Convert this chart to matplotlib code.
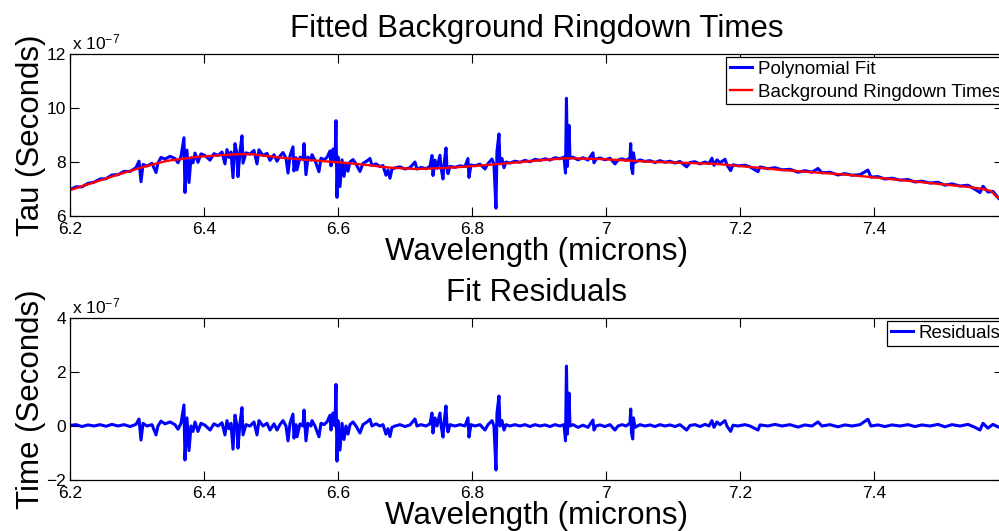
import matplotlib
matplotlib.use("Agg")
import matplotlib.pyplot as plt

# ── Data (tau values in units of 1e-7 s) ─────────────────────────────────────
wavelength = [
    6.2000, 6.2090, 6.2179, 6.2269, 6.2358, 6.2448, 6.2537, 6.2627, 6.2716, 6.2806,
    6.2896, 6.2985, 6.3030, 6.3060, 6.3090, 6.3149, 6.3224, 6.3284, 6.3313, 6.3358,
    6.3418, 6.3493, 6.3567, 6.3612, 6.3657, 6.3701, 6.3716, 6.3746, 6.3776, 6.3806,
    6.3836, 6.3866, 6.3910, 6.3955, 6.4015, 6.4090, 6.4149, 6.4209, 6.4269, 6.4313,
    6.4343, 6.4373, 6.4403, 6.4433, 6.4463, 6.4493, 6.4507, 6.4537, 6.4567, 6.4582,
    6.4627, 6.4687, 6.4746, 6.4791, 6.4821, 6.4881, 6.4940, 6.4985, 6.5045, 6.5090,
    6.5134, 6.5179, 6.5224, 6.5254, 6.5284, 6.5328, 6.5343, 6.5373, 6.5388, 6.5433,
    6.5478, 6.5493, 6.5522, 6.5552, 6.5597, 6.5612, 6.5657, 6.5716, 6.5746, 6.5791,
    6.5836, 6.5881, 6.5896, 6.5925, 6.5955, 6.5970, 6.5985, 6.6000, 6.6030, 6.6060,
    6.6090, 6.6119, 6.6149, 6.6179, 6.6224, 6.6269, 6.6328, 6.6373, 6.6433, 6.6478,
    6.6507, 6.6567, 6.6627, 6.6672, 6.6716, 6.6746, 6.6776, 6.6806, 6.6851, 6.6925,
    6.7000, 6.7075, 6.7149, 6.7179, 6.7239, 6.7313, 6.7373, 6.7403, 6.7418, 6.7448,
    6.7478, 6.7522, 6.7537, 6.7567, 6.7582, 6.7612, 6.7627, 6.7642, 6.7672, 6.7746,
    6.7821, 6.7896, 6.7940, 6.7955, 6.7985, 6.8045, 6.8119, 6.8194, 6.8239, 6.8299,
    6.8328, 6.8358, 6.8373, 6.8403, 6.8418, 6.8448, 6.8478, 6.8507, 6.8567, 6.8642,
    6.8716, 6.8791, 6.8866, 6.8940, 6.9015, 6.9090, 6.9164, 6.9239, 6.9313, 6.9373,
    6.9396, 6.9410, 6.9425, 6.9448, 6.9463, 6.9507, 6.9582, 6.9657, 6.9731, 6.9806,
    6.9821, 6.9851, 6.9910, 6.9985, 7.0060, 7.0134, 7.0179, 7.0239, 7.0299, 7.0358,
    7.0369, 7.0381, 7.0399, 7.0410, 7.0433, 7.0507, 7.0582, 7.0657, 7.0731, 7.0806,
    7.0881, 7.0955, 7.1030, 7.1104, 7.1204, 7.1254, 7.1328, 7.1403, 7.1478, 7.1537,
    7.1582, 7.1612, 7.1657, 7.1701, 7.1776, 7.1806, 7.1861, 7.1896, 7.1970, 7.2075,
    7.2149, 7.2269, 7.2299, 7.2418, 7.2522, 7.2627, 7.2746, 7.2866, 7.2970, 7.3075,
    7.3164, 7.3224, 7.3343, 7.3463, 7.3567, 7.3672, 7.3791, 7.3910, 7.3955, 7.4060,
    7.4164, 7.4269, 7.4388, 7.4507, 7.4612, 7.4716, 7.4836, 7.4955, 7.5060, 7.5164,
    7.5284, 7.5403, 7.5507, 7.5582, 7.5627, 7.5701, 7.5776, 7.5866, 7.6000,
]

tau_measured = [
    6.98, 7.08, 7.08, 7.21, 7.25, 7.37, 7.38, 7.52, 7.53, 7.65,
    7.65, 7.79, 8.03, 7.27, 7.91, 7.85, 7.95, 7.61, 7.96, 8.17,
    8.11, 8.21, 8.13, 7.97, 8.21, 8.90, 6.87, 8.44, 7.24, 8.16,
    7.97, 8.33, 7.99, 8.30, 8.24, 8.07, 8.31, 8.24, 8.37, 7.93,
    8.46, 8.17, 8.37, 7.42, 8.68, 8.28, 7.46, 8.38, 8.97, 7.96,
    8.34, 8.29, 8.43, 7.93, 8.45, 8.24, 8.32, 8.06, 8.27, 8.03,
    8.22, 8.35, 8.14, 7.59, 8.23, 8.56, 7.67, 8.16, 7.71, 8.18,
    8.09, 8.68, 7.53, 8.18, 8.07, 8.27, 8.06, 7.64, 8.14, 8.08,
    8.17, 8.41, 7.86, 8.48, 8.00, 9.53, 6.69, 8.19, 7.09, 8.08,
    7.47, 7.96, 7.66, 8.00, 8.09, 7.93, 7.65, 7.95, 8.04, 8.13,
    7.87, 7.93, 7.83, 7.87, 7.51, 7.70, 7.40, 7.74, 7.78, 7.82,
    7.74, 7.79, 8.00, 7.74, 7.80, 7.75, 7.84, 8.24, 7.50, 8.07,
    7.77, 8.25, 7.82, 7.37, 7.88, 8.52, 7.78, 7.57, 7.84, 7.80,
    7.86, 7.83, 8.13, 7.43, 7.89, 7.86, 7.92, 7.74, 7.94, 8.11,
    7.91, 6.29, 8.40, 9.04, 7.93, 8.13, 7.79, 8.00, 7.96, 8.03,
    7.99, 8.06, 8.01, 8.10, 8.06, 8.12, 8.07, 8.16, 8.12, 8.18,
    7.59, 10.36, 7.84, 9.36, 8.14, 8.18, 8.08, 8.16, 8.07, 8.34,
    7.97, 8.11, 8.15, 8.08, 8.14, 7.93, 8.07, 8.12, 8.06, 8.15,
    8.68, 7.79, 7.57, 8.34, 7.99, 8.08, 8.02, 8.05, 7.98, 8.05,
    7.99, 8.03, 7.96, 8.02, 7.82, 7.98, 8.01, 7.93, 8.00, 7.94,
    8.14, 7.88, 8.08, 7.97, 8.10, 7.89, 7.68, 7.90, 7.86, 7.88,
    7.82, 7.64, 7.82, 7.75, 7.79, 7.71, 7.73, 7.62, 7.68, 7.62,
    7.76, 7.60, 7.62, 7.52, 7.57, 7.51, 7.53, 7.70, 7.44, 7.46,
    7.37, 7.40, 7.33, 7.35, 7.26, 7.29, 7.22, 7.25, 7.14, 7.19,
    7.11, 7.14, 6.99, 6.87, 7.10, 6.89, 6.91, 6.64, 6.62,
]

residuals = [
    0.02, 0.05, -0.02, 0.04, 0.00, 0.05, -0.01, 0.06, 0.00, 0.05,
    -0.02, 0.06, 0.26, -0.52, 0.10, 0.00, 0.05, -0.33, 0.00, 0.18,
    0.08, 0.15, 0.05, -0.12, 0.10, 0.78, -1.26, 0.30, -0.91, 0.00,
    -0.20, 0.15, -0.20, 0.10, 0.03, -0.15, 0.08, 0.00, 0.12, -0.33,
    0.20, -0.10, 0.10, -0.86, 0.40, 0.00, -0.82, 0.10, 0.68, -0.33,
    0.05, 0.00, 0.15, -0.33, 0.20, 0.00, 0.10, -0.15, 0.08, -0.15,
    0.05, 0.20, 0.00, -0.55, 0.10, 0.44, -0.45, 0.05, -0.40, 0.08,
    0.00, 0.59, -0.55, 0.10, 0.00, 0.20, 0.00, -0.40, 0.10, 0.05,
    0.15, 0.40, -0.15, 0.48, 0.00, 1.54, -1.30, 0.20, -0.89, 0.10,
    -0.50, 0.00, -0.30, 0.05, 0.15, 0.00, -0.26, 0.05, 0.15, 0.25,
    0.00, 0.08, 0.00, 0.05, -0.30, -0.10, -0.39, -0.05, 0.00, 0.05,
    -0.02, 0.04, 0.26, 0.00, 0.05, 0.00, 0.08, 0.48, -0.26, 0.30,
    0.00, 0.48, 0.05, -0.41, 0.10, 0.74, 0.00, -0.22, 0.05, 0.00,
    0.05, 0.00, 0.30, -0.41, 0.05, 0.00, 0.05, -0.15, 0.05, 0.20,
    0.00, -1.63, 0.48, 1.11, 0.00, 0.20, -0.15, 0.05, 0.00, 0.05,
    0.00, 0.05, -0.02, 0.05, 0.00, 0.04, -0.02, 0.05, 0.00, 0.05,
    -0.55, 2.22, -0.30, 1.22, 0.00, 0.05, -0.05, 0.03, -0.05, 0.22,
    -0.15, 0.00, 0.04, -0.02, 0.05, -0.15, 0.00, 0.05, 0.00, 0.10,
    0.63, -0.26, -0.48, 0.30, -0.05, 0.05, 0.00, 0.04, -0.02, 0.05,
    0.00, 0.04, -0.02, 0.05, -0.15, 0.02, 0.05, -0.02, 0.06, 0.00,
    0.20, -0.05, 0.15, 0.05, 0.20, 0.00, -0.20, 0.03, 0.00, 0.05,
    0.00, -0.15, 0.04, 0.00, 0.06, 0.00, 0.05, -0.04, 0.04, 0.00,
    0.15, 0.00, 0.05, -0.03, 0.04, 0.00, 0.05, 0.25, 0.00, 0.04,
    -0.02, 0.04, 0.00, 0.05, -0.02, 0.04, 0.00, 0.06, -0.03, 0.05,
    0.00, 0.06, -0.05, -0.15, 0.10, -0.08, 0.06, -0.05, 0.00,
]

# smooth background (red curve)
fit_wavelength = [6.200, 6.270, 6.310, 6.344, 6.394, 6.444, 6.470, 6.494, 6.523, 6.568,
                  6.600, 6.643, 6.678, 6.718, 6.760, 6.792, 6.852, 6.900, 6.941, 6.991,
                  7.066, 7.165, 7.265, 7.364, 7.464, 7.540, 7.563, 7.575, 7.583, 7.600]
fit_tau = [6.96, 7.52, 7.82, 8.04, 8.20, 8.28, 8.29, 8.22, 8.14, 8.05,
           7.99, 7.89, 7.79, 7.74, 7.78, 7.83, 7.95, 8.06, 8.14, 8.11,
           8.01, 7.93, 7.70, 7.52, 7.27, 7.08, 7.00, 6.92, 6.71, 6.62]

x_ticks = [6.2, 6.4, 6.6, 6.8, 7.0, 7.2, 7.4]
x_tick_labels = ['6.2', '6.4', '6.6', '6.8', '7', '7.2', '7.4']
tau_ticks = [6, 8, 10, 12]
resid_ticks = [-2, 0, 2, 4]

# ── Style ─────────────────────────────────────────────────────────────────────
plt.rcParams['font.family'] = 'Liberation Sans'
plt.rcParams['mathtext.fontset'] = 'custom'
plt.rcParams['mathtext.rm'] = 'Liberation Sans'
plt.rcParams['mathtext.default'] = 'regular'

W, H = 999, 531
fig = plt.figure(figsize=(W / 100, H / 100), dpi=100)
ax_w = 932.6 / W
ax1 = fig.add_axes([70 / W, 315 / H, ax_w, 162 / H])
ax2 = fig.add_axes([70 / W, 51 / H, ax_w, 162 / H])


def style_axes(ax, yticks):
    ax.set_xlim(6.2, 7.592)
    ax.set_ylim(yticks[0], yticks[-1])
    ax.set_xticks(x_ticks)
    ax.set_xticklabels(x_tick_labels)
    ax.set_yticks(yticks)
    ax.set_yticklabels([str(t).replace('-', '\u2212') for t in yticks])
    ax.tick_params(direction='in', length=6.5, width=0.8, top=True, right=True,
                   labelsize=12.5, colors='black')
    ax.tick_params(axis='x', pad=4)
    ax.tick_params(axis='y', pad=3)
    for s in ax.spines.values():
        s.set_linewidth(0.9)
    ax.text(2 / 932.6, 1 + 5 / 162, r'x 10$^{-7}$', transform=ax.transAxes,
            ha='left', va='baseline', fontsize=12.5)


# ── Top: measured + background fit ───────────────────────────────────────────
ax1.plot(wavelength, tau_measured, color='#0000ff', lw=2.2, label='Polynomial Fit')
ax1.plot(fit_wavelength, fit_tau, color='#ff0000', lw=1.7, label='Background Ringdown Times')
style_axes(ax1, tau_ticks)
ax1.set_title('Fitted Background Ringdown Times', fontsize=22.5, pad=12)
ax1.set_xlabel('Wavelength (microns)', fontsize=22.5, labelpad=0)
ax1.set_ylabel('Tau (Seconds)', fontsize=22.5, labelpad=0)

# ── Bottom: residuals ────────────────────────────────────────────────────────
ax2.plot(wavelength, residuals, color='#0000ff', lw=2.2, label='Residuals')
style_axes(ax2, resid_ticks)
ax2.set_title('Fit Residuals', fontsize=22.5, pad=12)
ax2.set_xlabel('Wavelength (microns)', fontsize=22.5, labelpad=0)
ax2.set_ylabel('Time (Seconds)', fontsize=22.5, labelpad=0)

leg_kw = dict(loc='upper left', bbox_transform=fig.transFigure, borderaxespad=0,
              fontsize=13.5, fancybox=False, edgecolor='black', framealpha=1,
              handlelength=1.2, handletextpad=0.3, borderpad=0.2)
leg1 = ax1.legend(bbox_to_anchor=(726 / W, 1 - 57 / H), labelspacing=0.3, **leg_kw)
leg2 = ax2.legend(bbox_to_anchor=(887 / W, 1 - 321 / H), **leg_kw)
for leg in (leg1, leg2):
    leg.get_frame().set_linewidth(0.9)

fig.savefig('out.png', dpi=100)
